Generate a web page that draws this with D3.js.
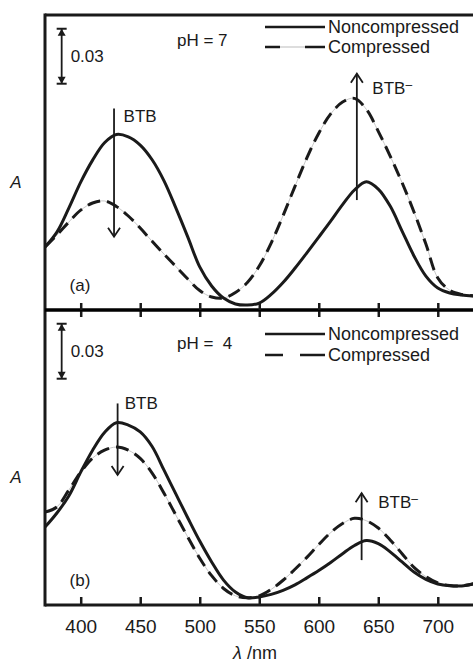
<!DOCTYPE html>
<html>
<head>
<meta charset="utf-8">
<style type="text/css">
    body { margin: 0; background: #fff; }
    svg { display: block; }
    text { font-family: "Liberation Sans", Arial, sans-serif; fill: #1a1a1a; }
</style>
</head>
<body>
<svg id="chart" width="473" height="664"></svg>
<script src="https://d3js.org/d3.v7.min.js"></script>
<script>
// wavelength grid (nm) shared by all four spectra
var wavelengths = [370, 380, 390, 400, 410, 420, 430, 440, 450, 460, 470, 480, 490, 500, 510, 520, 530, 540, 550,
                   560, 570, 580, 590, 600, 610, 620, 630, 640, 650, 660, 670, 680, 690, 700, 710, 720, 730];

// (a) pH = 7, absorbance
var phSevenNoncompressed = [0.0344, 0.0425, 0.0556, 0.0698, 0.0818, 0.0913, 0.0958, 0.0945, 0.0900, 0.0820, 0.0705,
                            0.0556, 0.0398, 0.0235, 0.0131, 0.0065, 0.0033, 0.0027, 0.0038, 0.0085, 0.0150, 0.0228,
                            0.0312, 0.0398, 0.0485, 0.0575, 0.0655, 0.0700, 0.0660, 0.0567, 0.0431, 0.0295, 0.0185,
                            0.0120, 0.0093, 0.0082, 0.0076];
var phSevenCompressed = [0.0344, 0.0409, 0.0480, 0.0545, 0.0584, 0.0595, 0.0565, 0.0513, 0.0447, 0.0375, 0.0305,
                         0.0237, 0.0169, 0.0106, 0.0071, 0.0065, 0.0095, 0.0150, 0.0240, 0.0365, 0.0515, 0.0675,
                         0.0830, 0.0965, 0.1070, 0.1135, 0.1155, 0.1095, 0.0975, 0.0840, 0.0695, 0.0535, 0.0360,
                         0.0175, 0.0108, 0.0085, 0.0078];

// (b) pH = 4
var phFourNoncompressed = [0.0425, 0.0502, 0.0595, 0.0725, 0.0845, 0.0942, 0.0995, 0.0982, 0.0945, 0.0865, 0.0736,
                           0.0605, 0.0475, 0.0349, 0.0235, 0.0136, 0.0071, 0.0040, 0.0044, 0.0058, 0.0080, 0.0110,
                           0.0148, 0.0188, 0.0232, 0.0280, 0.0325, 0.0352, 0.0335, 0.0290, 0.0235, 0.0180, 0.0140,
                           0.0115, 0.0105, 0.0104, 0.0115];
var phFourCompressed = [0.0507, 0.0535, 0.0627, 0.0725, 0.0802, 0.0845, 0.0862, 0.0845, 0.0800, 0.0720, 0.0610,
                        0.0490, 0.0370, 0.0255, 0.0160, 0.0090, 0.0050, 0.0040, 0.0050, 0.0085, 0.0135, 0.0195,
                        0.0260, 0.0330, 0.0395, 0.0445, 0.0473, 0.0460, 0.0420, 0.0355, 0.0280, 0.0205, 0.0155,
                        0.0120, 0.0106, 0.0104, 0.0116];

var xTickValues = [400, 450, 500, 550, 600, 650, 700];

var svg = d3.select("#chart");

var x = d3.scaleLinear().domain([370, 730]).range([45, 473.5]);

var panels = [
    { top: 15, bottom: 310, label: "(a)", ph: "pH = 7", phY: 40, legY: [27, 47],
      non: phSevenNoncompressed, comp: phSevenCompressed, legendDash: "a" },
    { top: 310, bottom: 605, label: "(b)", ph: "pH =  4", phY: 343, legY: [334, 355],
      non: phFourNoncompressed, comp: phFourCompressed, legendDash: "b" }
];

svg.append("defs").append("clipPath").attr("id", "plotclip")
    .append("rect").attr("x", 45).attr("y", 0).attr("width", 430).attr("height", 664);

function chevron(g, cx, cy, dir) {
    // open arrow head, dir = -1 points up, +1 points down
    g.append("path")
        .attr("d", "M" + (cx - 6) + "," + (cy - dir * 9) + "L" + cx + "," + cy + "L" + (cx + 6) + "," + (cy - dir * 9))
        .attr("fill", "none").attr("stroke", "#1a1a1a").attr("stroke-width", 1.8);
}

panels.forEach(function (p) {
    var y = d3.scaleLinear().domain([0, 0.161]).range([p.bottom, p.top]);
    var g = svg.append("g");

    var line = d3.line()
        .curve(d3.curveCatmullRom.alpha(0.5))
        .x(function (d, i) { return x(wavelengths[i]); })
        .y(function (d) { return y(d); });

    var curves = g.append("g").attr("clip-path", "url(#plotclip)");
    // faint underlay visible in the gaps of the compressed trace
    curves.append("path").datum(p.comp).attr("d", line)
        .attr("fill", "none").attr("stroke", "#c8c8c8").attr("stroke-width", 1);
    curves.append("path").datum(p.comp).attr("d", line)
        .attr("fill", "none").attr("stroke", "#1a1a1a").attr("stroke-width", 3)
        .attr("stroke-dasharray", "13,7");
    curves.append("path").datum(p.non).attr("d", line)
        .attr("fill", "none").attr("stroke", "#1a1a1a").attr("stroke-width", 3);

    // scale bar 0.03
    var sbx = x(384), y1 = y(0.1535), y2 = y(0.1235);
    g.append("line").attr("x1", sbx).attr("x2", sbx).attr("y1", y1).attr("y2", y2)
        .attr("stroke", "#1a1a1a").attr("stroke-width", 1.8);
    [y1, y2].forEach(function (yy) {
        g.append("line").attr("x1", sbx - 5).attr("x2", sbx + 5).attr("y1", yy).attr("y2", yy)
            .attr("stroke", "#1a1a1a").attr("stroke-width", 2);
    });
    g.append("path").attr("d", "M" + (sbx - 4) + "," + (y1 + 7) + "L" + sbx + "," + y1 + "L" + (sbx + 4) + "," + (y1 + 7) + "Z")
        .attr("fill", "#1a1a1a");
    g.append("path").attr("d", "M" + (sbx - 4) + "," + (y2 - 7) + "L" + sbx + "," + y2 + "L" + (sbx + 4) + "," + (y2 - 7) + "Z")
        .attr("fill", "#1a1a1a");
    g.append("text").attr("x", sbx + 9).attr("y", (y1 + y2) / 2).attr("dy", "0.35em")
        .style("font-size", "17px").text("0.03");

    g.append("text").attr("x", 177).attr("y", p.phY).attr("dy", "0.35em")
        .style("font-size", "17px").style("white-space", "pre").text(p.ph);

    // legend
    var ly1 = p.legY[0], ly2 = p.legY[1];
    g.append("line").attr("x1", 265).attr("x2", 325).attr("y1", ly1).attr("y2", ly1)
        .attr("stroke", "#1a1a1a").attr("stroke-width", 2.5);
    if (p.legendDash === "a") {
        g.append("line").attr("x1", 265).attr("x2", 325).attr("y1", ly2).attr("y2", ly2)
            .attr("stroke", "#bbb").attr("stroke-width", 1);
        g.append("line").attr("x1", 265).attr("x2", 325).attr("y1", ly2).attr("y2", ly2)
            .attr("stroke", "#1a1a1a").attr("stroke-width", 2.5).attr("stroke-dasharray", "15,25,20");
    } else {
        g.append("line").attr("x1", 265).attr("x2", 325).attr("y1", ly2).attr("y2", ly2)
            .attr("stroke", "#1a1a1a").attr("stroke-width", 2.5).attr("stroke-dasharray", "18,17,25");
    }
    g.append("text").attr("x", 328).attr("y", ly1).attr("dy", "0.35em").style("font-size", "18px").text("Noncompressed");
    g.append("text").attr("x", 328).attr("y", ly2).attr("dy", "0.35em").style("font-size", "18px").text("Compressed");

    g.append("text").attr("x", 80).attr("y", p.bottom - 25).attr("dy", "0.35em")
        .attr("text-anchor", "middle").style("font-size", "17px").text(p.label);

    g.append("text").attr("x", 16).attr("y", (p.top + p.bottom) / 2 + 20).attr("dy", "0.35em")
        .attr("text-anchor", "middle").style("font-size", "17px").style("font-style", "italic").text("A");

    p.y = y;
    p.g = g;
});

// BTB / BTB- arrows
function arrow(p, nm, aFrom, aTo, label, lx, la, minus) {
    var g = p.g, y = p.y, ax = x(nm);
    g.append("line").attr("x1", ax).attr("x2", ax).attr("y1", y(aFrom)).attr("y2", y(aTo))
        .attr("stroke", "#1a1a1a").attr("stroke-width", 1.8);
    chevron(g, ax, y(aTo), aTo > aFrom ? -1 : 1);
    var t = g.append("text").attr("x", x(lx)).attr("y", y(la)).attr("dy", "0.35em").style("font-size", "17px").text(label);
    if (minus) t.append("tspan").attr("dy", "-0.45em").style("font-size", "12px").text("\u2013");
}
arrow(panels[0], 428, 0.110, 0.040, "BTB", 436, 0.106, false);
arrow(panels[0], 632, 0.060, 0.129, "BTB", 645, 0.121, true);
arrow(panels[1], 431, 0.110, 0.071, "BTB", 437, 0.110, false);
arrow(panels[1], 636, 0.0245, 0.061, "BTB", 650, 0.056, true);

// frame lines
var frame = svg.append("g").attr("stroke", "#1a1a1a").attr("stroke-width", 3);
frame.append("line").attr("x1", 45).attr("x2", 473).attr("y1", 15).attr("y2", 15);
frame.append("line").attr("x1", 45).attr("x2", 45).attr("y1", 13.5).attr("y2", 606.5);

// middle shared axis: ticks cross both sides
var mid = svg.append("g").attr("transform", "translate(0,310)")
    .call(d3.axisBottom(x).tickValues(xTickValues).tickSize(7).tickFormat(""));
mid.append("g").call(d3.axisTop(x).tickValues(xTickValues).tickSize(7).tickFormat(""));
mid.selectAll(".domain").attr("stroke-width", 3).attr("d", "M45,0H474");
mid.selectAll(".tick line").attr("stroke-width", 2.5).attr("stroke", "#1a1a1a");

// bottom axis with labels, ticks pointing in
var bottom = svg.append("g").attr("transform", "translate(0,605)")
    .call(d3.axisBottom(x).tickValues(xTickValues).tickSizeInner(-8).tickSizeOuter(0).tickPadding(15));
bottom.select(".domain").attr("stroke-width", 3).attr("stroke", "#1a1a1a").attr("d", "M45,0H474");
bottom.selectAll(".tick line").attr("stroke-width", 2.5).attr("stroke", "#1a1a1a");
bottom.selectAll(".tick text").style("font-size", "19px").style("font-family", "'Liberation Sans', Arial, sans-serif")
    .attr("fill", "#1a1a1a");

svg.append("text").attr("x", 255).attr("y", 659).attr("text-anchor", "middle").style("font-size", "18px")
    .html('<tspan font-style="italic">\u03bb</tspan> /nm');
</script>
</body>
</html>
